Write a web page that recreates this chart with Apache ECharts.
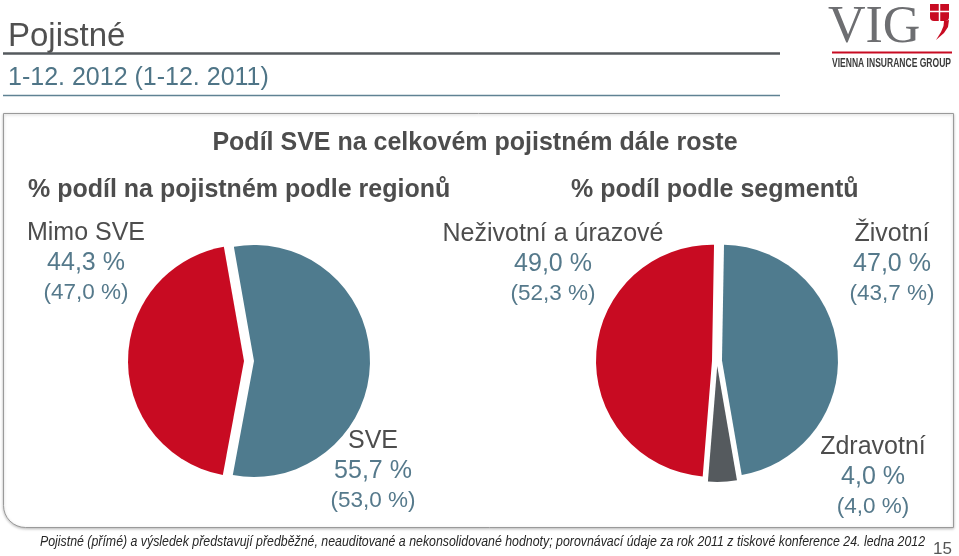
<!DOCTYPE html>
<html><head><meta charset="utf-8">
<script src="https://cdn.jsdelivr.net/npm/echarts@6/dist/echarts.min.js"></script>
<style>html,body{margin:0;padding:0;background:#fff}#c{width:959px;height:556px}</style>
</head><body><div id="c"></div>
<script>
// ---- data ----
const regionNames = ['SVE', 'Mimo SVE'];
const regionValues = [55.7, 44.3];
const regionPrev = [53.0, 47.0];
const segmentNames = ['Životní', 'Zdravotní', 'Neživotní a úrazové'];
const segmentValues = [47.0, 4.0, 49.0];
const segmentPrev = [43.7, 4.0, 52.3];
const pageTitle = 'Pojistné';
const pageSubtitle = '1-12. 2012 (1-12. 2011)';
const chartTitle = 'Podíl SVE na celkovém pojistném dále roste';
const regionTitle = '% podíl na pojistném podle regionů';
const segmentTitle = '% podíl podle segmentů';
const footnote = 'Pojistné (přímé) a výsledek představují předběžné, neauditované a nekonsolidované hodnoty; porovnávací údaje za rok 2011 z tiskové konference 24. ledna 2012';
const pageNo = '15';

// ---- styles ----
const RED = '#c80b22', BLUE = '#4f7b8e', GREY = '#555a5e';
const TXT = '#4d4d4d', VAL = '#55798b';
const FF = '"Liberation Sans", Arial, Helvetica, sans-serif';
const fmt = v => v.toFixed(1).replace('.', ',') + ' %';

function measure(text, font) {
  const c = document.createElement('canvas').getContext('2d');
  c.font = font; return c.measureText(text).width;
}

function labelBlock(cx, y, name, val, prev) {
  return [
    {type:'text', x:cx, y:y, style:{text:name, font:'25px '+FF, fill:TXT, align:'center', verticalAlign:'middle'}},
    {type:'text', x:cx, y:y+30, style:{text:fmt(val), font:'25px '+FF, fill:VAL, align:'center', verticalAlign:'middle'}},
    {type:'text', x:cx, y:y+60, style:{text:'(' + fmt(prev) + ')', font:'22.5px '+FF, fill:VAL, align:'center', verticalAlign:'middle'}}
  ];
}

const footFont = 'italic 14px ' + FF;
const footScale = 885 / measure(footnote, footFont);
const vigFont = 'bold 12px ' + FF;
const vigText = 'VIENNA INSURANCE GROUP';
const vigScale = 119 / measure(vigText, vigFont);

const graphics = [
  // chart box
  {type:'rect', shape:{x:3.5, y:113.5, width:950, height:414, r:[0,0,0,22]},
   style:{fill:'#fff', stroke:'#9a9a9a', lineWidth:1, shadowBlur:3, shadowColor:'rgba(0,0,0,0.25)', shadowOffsetY:1}, z:-10},
  // header
  {type:'text', x:8, y:37, style:{text:pageTitle, font:'33px '+FF, fill:'#505050', verticalAlign:'middle'}},
  {type:'line', shape:{x1:3, y1:53.5, x2:780, y2:53.5}, style:{stroke:'#555a5e', lineWidth:2.5}},
  {type:'text', x:8, y:78, style:{text:pageSubtitle, font:'25px '+FF, fill:'#4f7587', verticalAlign:'middle'}},
  {type:'line', shape:{x1:3, y1:95.5, x2:780, y2:95.5}, style:{stroke:'#5f8293', lineWidth:1.5}},
  // logo
  {type:'text', x:828, y:28, style:{text:'VIG', font:'52px "Liberation Serif", "Times New Roman", serif', fill:'#6d6e71', verticalAlign:'middle'}},
  {type:'rect', shape:{x:930, y:4, width:19, height:17, r:[0,0,4,4]}, style:{fill:RED}},
  {type:'line', shape:{x1:939.5, y1:4, x2:939.5, y2:21}, style:{stroke:'#fff', lineWidth:1.5}},
  {type:'line', shape:{x1:930, y1:11.5, x2:949, y2:11.5}, style:{stroke:'#fff', lineWidth:1.5}},
  {type:'polygon', shape:{points:[[949,20],[948,27],[944,33],[936,40],[941,32],[943.5,26],[944,21]]}, style:{fill:RED}},
  {type:'line', shape:{x1:832, y1:52.5, x2:952, y2:52.5}, style:{stroke:RED, lineWidth:2}},
  {type:'text', x:832, y:63.5, scaleX:vigScale, style:{text:vigText, font:vigFont, fill:'#3a3a3a', verticalAlign:'middle'}},
  // titles
  {type:'text', x:475, y:143, style:{text:chartTitle, font:'bold 25px '+FF, fill:TXT, align:'center', verticalAlign:'middle'}},
  {type:'text', x:28, y:190, style:{text:regionTitle, font:'bold 25px '+FF, fill:TXT, verticalAlign:'middle'}},
  {type:'text', x:571, y:190, style:{text:segmentTitle, font:'bold 25px '+FF, fill:TXT, verticalAlign:'middle'}},
  // labels
  ...labelBlock(86, 233, regionNames[1], regionValues[1], regionPrev[1]),
  ...labelBlock(373, 441, regionNames[0], regionValues[0], regionPrev[0]),
  ...labelBlock(553, 234, segmentNames[2], segmentValues[2], segmentPrev[2]),
  ...labelBlock(892, 234, segmentNames[0], segmentValues[0], segmentPrev[0]),
  ...labelBlock(873, 447, segmentNames[1], segmentValues[1], segmentPrev[1]),
  // footer
  {type:'text', x:40, y:542, scaleX:footScale, style:{text:footnote, font:footFont, fill:'#262626', verticalAlign:'middle'}},
  {type:'text', x:952, y:549, style:{text:pageNo, font:'17px '+FF, fill:'#555', align:'right', verticalAlign:'middle'}}
];

const chart = echarts.init(document.getElementById('c'), null, {renderer:'canvas'});
chart.setOption({
  animation:false,
  graphic: graphics,
  series: [
    {
      type:'pie', center:[249, 361], radius:116, startAngle:100, clockwise:true,
      selectedMode:'multiple', selectedOffset:5, label:{show:false}, labelLine:{show:false},
      emphasis:{disabled:true}, silent:true,
      data: regionNames.map((n, i) => ({name:n, value:regionValues[i], selected:true,
        itemStyle:{color:[BLUE, RED][i]}}))
    },
    {
      type:'pie', center:[717, 361], radius:116, startAngle:89, clockwise:true,
      selectedMode:'multiple', selectedOffset:5, label:{show:false}, labelLine:{show:false},
      emphasis:{disabled:true}, silent:true,
      data: segmentNames.map((n, i) => ({name:n, value:segmentValues[i], selected:true,
        itemStyle:{color:[BLUE, GREY, RED][i]}}))
    }
  ]
});
</script></body></html>
